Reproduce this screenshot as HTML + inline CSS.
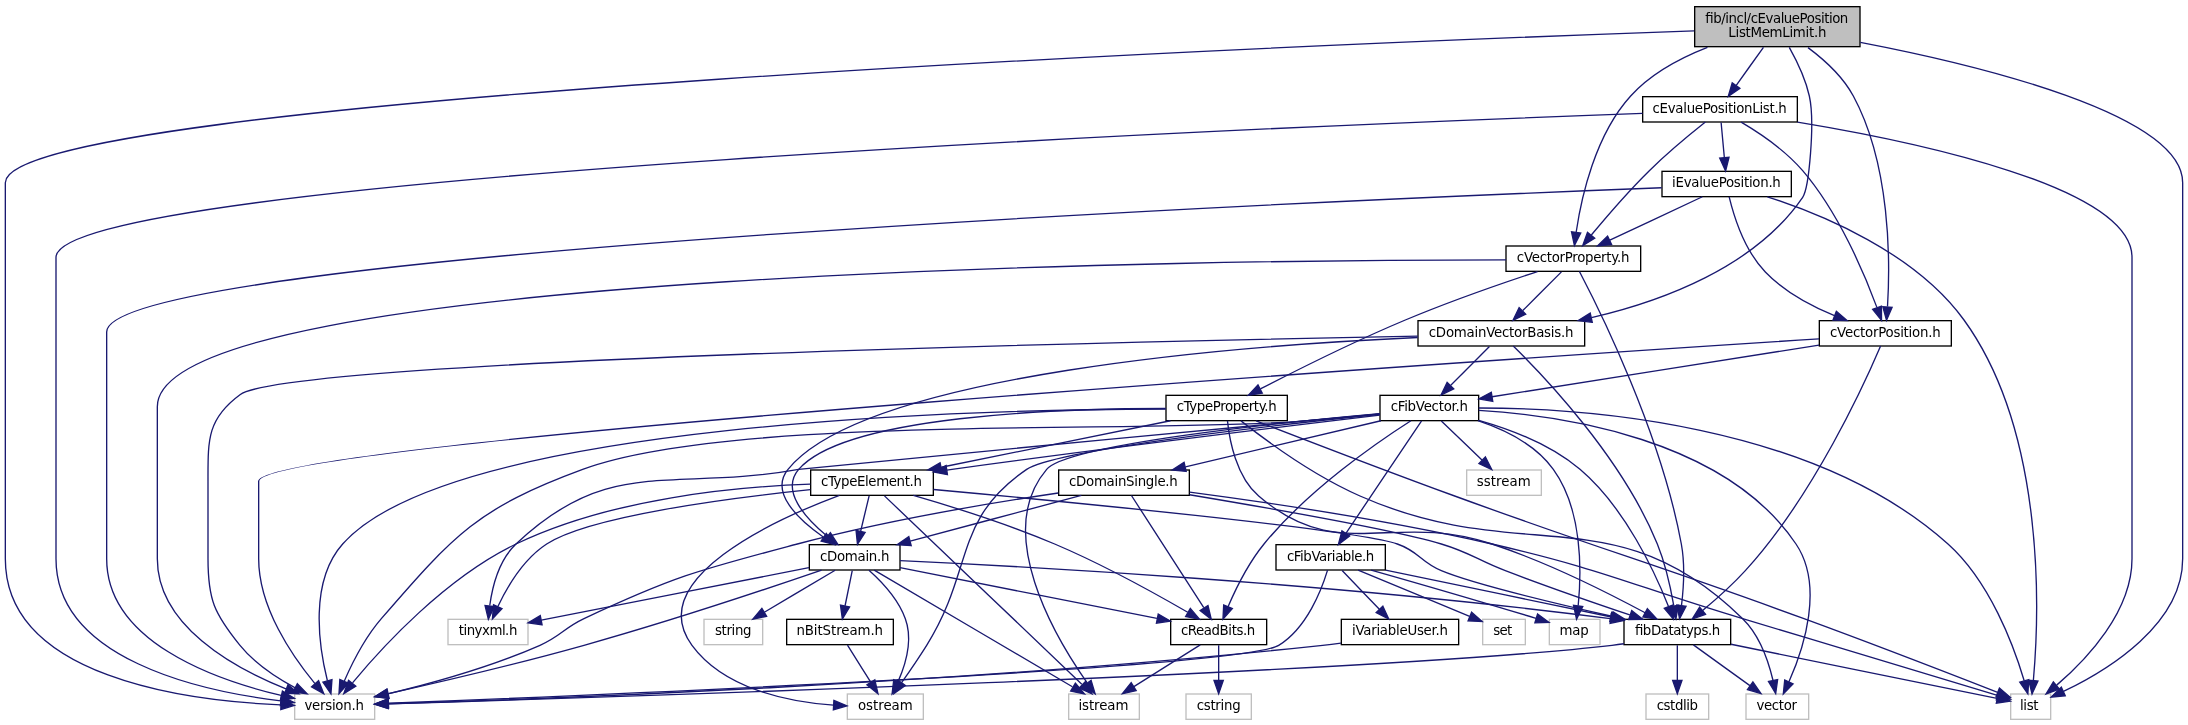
<!DOCTYPE html>
<html lang="en"><head><meta charset="utf-8"><title>fib/incl/cEvaluePositionListMemLimit.h include dependency graph</title>
<style>
html,body{margin:0;padding:0;background:#fff}
svg{display:block;will-change:transform}
.e path{fill:none;stroke:#191970;stroke-width:1.333}
.e polygon{fill:#191970;stroke:#191970;stroke-width:1.333}
rect{stroke-width:1.333}
rect.b{fill:#fff;stroke:#000}
rect.s{fill:#fff;stroke:#bfbfbf}
rect.r{fill:#bfbfbf;stroke:#000}
text{font-family:"DejaVu Sans","Liberation Sans",sans-serif;font-size:13.333px;fill:#000}
text.m{text-anchor:middle}
</style></head><body>
<svg width="2188" height="725" viewBox="0 0 2188 725">
<rect x="0" y="0" width="2188" height="725" fill="#fff" stroke="none"/>
<g class="n">
<rect class="r" x="1694.67" y="6.67" width="165.33" height="40"/><text x="1704.83" y="22.67" textLength="143">fib/incl/cEvaluePosition</text><text class="m" x="1777.33" y="37.33" textLength="98">ListMemLimit.h</text>
<rect class="s" x="294.67" y="694" width="80" height="25.33"/><text class="m" x="334.17" y="710" textLength="59.47">version.h</text>
<rect class="b" x="1642.67" y="96.67" width="154.67" height="25.33"/><text class="m" x="1719.7" y="112.67" textLength="134.23">cEvaluePositionList.h</text>
<rect class="b" x="1819.33" y="320.67" width="132" height="25.33"/><text class="m" x="1885.33" y="336.67" textLength="110.67">cVectorPosition.h</text>
<rect class="s" x="2010.67" y="694" width="40" height="25.33"/><text class="m" x="2029.27" y="710" textLength="18.67">list</text>
<rect class="b" x="1506" y="246" width="134.67" height="25.33"/><text class="m" x="1573.13" y="262" textLength="112.53">cVectorProperty.h</text>
<rect class="b" x="1418" y="320.67" width="166.67" height="25.33"/><text class="m" x="1501.13" y="336.67" textLength="144.73">cDomainVectorBasis.h</text>
<rect class="b" x="1662" y="171.33" width="129.33" height="25.33"/><text class="m" x="1726.47" y="187.33" textLength="108.7">iEvaluePosition.h</text>
<rect class="b" x="1380" y="395.33" width="98.67" height="25.33"/><text class="m" x="1429.33" y="411.33" textLength="77.33">cFibVector.h</text>
<rect class="b" x="1624" y="619.33" width="106.67" height="25.33"/><text class="m" x="1677.33" y="635.33" textLength="85.33">fibDatatyps.h</text>
<rect class="b" x="1276" y="544.67" width="109.33" height="25.33"/><text class="m" x="1330.57" y="560.67" textLength="87.3">cFibVariable.h</text>
<rect class="s" x="1746" y="694" width="62.67" height="25.33"/><text class="m" x="1776.73" y="710" textLength="40.53">vector</text>
<rect class="s" x="1549.33" y="619.33" width="50.67" height="25.33"/><text class="m" x="1574.17" y="635.33" textLength="29.33">map</text>
<rect class="s" x="448" y="619.33" width="80" height="25.33"/><text class="m" x="488" y="635.33" textLength="58.67">tinyxml.h</text>
<rect class="b" x="810.67" y="470" width="122.67" height="25.33"/><text class="m" x="871.4" y="486" textLength="100.93">cTypeElement.h</text>
<rect class="s" x="847.33" y="694" width="76" height="25.33"/><text class="m" x="885.33" y="710" textLength="54.67">ostream</text>
<rect class="b" x="1170.67" y="619.33" width="96" height="25.33"/><text class="m" x="1218.07" y="635.33" textLength="74.37">cReadBits.h</text>
<rect class="s" x="1068.67" y="694" width="70.67" height="25.33"/><text class="m" x="1103.4" y="710" textLength="49.93">istream</text>
<rect class="b" x="1058.67" y="470" width="130.67" height="25.33"/><text class="m" x="1123.4" y="486" textLength="108.73">cDomainSingle.h</text>
<rect class="s" x="1466.67" y="470" width="74.67" height="25.33"/><text class="m" x="1503.8" y="486" textLength="53.93">sstream</text>
<rect class="b" x="1341.33" y="619.33" width="117.33" height="25.33"/><text class="m" x="1400" y="635.33" textLength="96">iVariableUser.h</text>
<rect class="s" x="1482.67" y="619.33" width="42.67" height="25.33"/><text class="m" x="1502.7" y="635.33" textLength="19.13">set</text>
<rect class="s" x="1646" y="694" width="62.67" height="25.33"/><text class="m" x="1677.33" y="710" textLength="41.33">cstdlib</text>
<rect class="b" x="809.33" y="544.67" width="90.67" height="25.33"/><text class="m" x="854.67" y="560.67" textLength="69.33">cDomain.h</text>
<rect class="b" x="786.67" y="619.33" width="106.67" height="25.33"/><text class="m" x="839.7" y="635.33" textLength="86.63">nBitStream.h</text>
<rect class="s" x="704" y="619.33" width="58.67" height="25.33"/><text class="m" x="733.23" y="635.33" textLength="36.63">string</text>
<rect class="s" x="1186" y="694" width="65.33" height="25.33"/><text class="m" x="1218.67" y="710" textLength="44">cstring</text>
<rect class="b" x="1166" y="395.33" width="121.33" height="25.33"/><text class="m" x="1226.67" y="411.33" textLength="100">cTypeProperty.h</text>
</g>
<g class="e">
<path d="M1694.24,30.84 C1343.91,43.35 5.33,96.77 5.33,182.67 5.33,182.67 5.33,182.67 5.33,558.67 5.33,677.73 187.19,700.83 280.63,704.84"/><polygon points="281.12,700.19 294.28,705.32 280.8,709.52"/>
<path d="M1763.45,47.36 C1755.2,58.88 1744.69,73.53 1736.08,85.56"/><polygon points="1739.81,88.36 1728.25,96.48 1732.23,82.92"/>
<path d="M1808.01,47.61 C1824.15,59.6 1842.72,76.37 1853.33,96 1890.64,164.97 1890.23,261.27 1887.52,306.55"/><polygon points="1892.13,307.36 1886.52,320.32 1882.83,306.68"/>
<path d="M1860.33,42.31 C1978.92,65.13 2182.67,114.32 2182.67,182.67 2182.67,182.67 2182.67,182.67 2182.67,558.67 2182.67,624.41 2108.11,670.01 2063.43,691.43"/><polygon points="2065.23,695.73 2051.16,697.07 2061.33,687.25"/>
<path d="M1707.43,47.44 C1680.37,57.99 1651.08,73.6 1630.67,96 1595.08,135.04 1581.28,197.61 1576.16,232.24"/><polygon points="1580.76,233 1574.41,245.61 1571.51,231.79"/>
<path d="M1789.28,47.4 C1796.67,60.57 1805.47,78.68 1809.33,96 1815.13,121.95 1809.03,188.03 1802.67,197.33 1754.8,267.32 1661.6,301.39 1591.47,317.68"/><polygon points="1592.24,322.29 1578.21,320.61 1590.21,313.17"/>
<path d="M1642.53,113.39 C1314.41,125.37 56,176.63 56,257.33 56,257.33 56,257.33 56,558.67 56,659.19 199.75,690.97 280.76,700.91"/><polygon points="281.43,696.28 294.15,702.41 280.37,705.56"/>
<path d="M1721.11,122.56 C1721.97,131.99 1723.23,145.52 1724.32,157.35"/><polygon points="1729,157.29 1725.59,171 1719.71,158.15"/>
<path d="M1741.16,122.19 C1759.28,132.88 1785.13,150.2 1802.67,170.67 1838.87,212.93 1864.51,273.79 1876.89,307.39"/><polygon points="1881.44,306.23 1881.52,320.36 1872.64,309.36"/>
<path d="M1797.49,122.05 C1916.84,141.79 2132,187.11 2132,257.33 2132,257.33 2132,257.33 2132,558.67 2132,611.63 2086.72,659.33 2056.69,685.13"/><polygon points="2059.31,689.01 2046.05,693.91 2053.36,681.83"/>
<path d="M1705.39,122.03 C1690.71,133.68 1667.69,152.6 1649.33,170.67 1628.27,191.4 1606.23,217.04 1591.33,235.04"/><polygon points="1594.72,238.27 1582.67,245.64 1587.49,232.36"/>
<path d="M1661.65,187.75 C1359.47,199.41 106.67,252.53 106.67,332 106.67,332 106.67,332 106.67,558.67 106.67,641.23 213.72,679.51 281.11,695.43"/><polygon points="282.44,690.95 294.43,698.4 280.4,700.05"/>
<path d="M1729.15,196.84 C1733.57,214.91 1744.37,250.09 1765.33,272 1784.23,291.73 1810.99,305.99 1834.45,315.63"/><polygon points="1836.33,311.35 1847.08,320.52 1832.96,320.05"/>
<path d="M1767.39,196.77 C1821.27,214.13 1915.12,252.45 1964,320 2046.17,433.55 2039.17,614.56 2033.37,680.37"/><polygon points="2038,681.08 2032.05,693.89 2028.71,680.16"/>
<path d="M1702.37,196.75 C1677.47,208.43 1638.45,226.75 1609.84,240.19"/><polygon points="1611.57,244.53 1597.52,245.97 1607.6,236.09"/>
<path d="M1819.04,338.88 C1513.83,358.47 258.67,441.48 258.67,481.33 258.67,481.33 258.67,481.33 258.67,558.67 258.67,607.6 292.43,656.45 314.95,683.6"/><polygon points="318.6,680.69 323.77,693.84 311.53,686.8"/>
<path d="M1819.03,345.13 C1731.33,358.99 1577.89,383.21 1492.04,396.76"/><polygon points="1492.77,401.37 1478.87,398.84 1491.31,392.16"/>
<path d="M1880.6,346.07 C1865.24,382.12 1813.75,495.72 1745.33,570.67 1732.23,585.01 1715.96,599.48 1702.61,610.61"/><polygon points="1705.51,614.27 1692.23,619.09 1699.6,607.04"/>
<path d="M1379.72,414.17 C1355.32,416.49 1325.47,419.2 1298.67,421.33 1139.69,433.96 732.32,414.27 582.67,469.33 478.11,507.8 454.23,534.41 381.33,618.67 365.12,637.41 352.29,662.73 344.23,681.16"/><polygon points="348.44,683.17 339.01,693.69 339.83,679.59"/>
<path d="M1421.59,420.84 C1405.31,445.04 1367.27,501.6 1345.91,533.35"/><polygon points="1349.69,536.08 1338.37,544.55 1341.95,530.88"/>
<path d="M1478.72,420.29 C1510.4,429.29 1550.91,444.65 1580,469.33 1624.95,507.45 1654.84,571.84 1668.6,606.63"/><polygon points="1673,605.05 1673.37,619.17 1664.28,608.37"/>
<path d="M1478.79,410.44 C1561.29,415.32 1724.97,438.53 1796,544 1824.24,585.93 1803.76,648.27 1788.96,681.85"/><polygon points="1793.17,683.87 1783.31,693.97 1784.72,679.92"/>
<path d="M1478.68,408 C1579.72,407.99 1812.03,422.16 1948,544 1990.04,581.68 2013.76,645.76 2024.19,680.75"/><polygon points="2028.73,679.71 2027.85,693.8 2019.75,682.23"/>
<path d="M1477.88,420.72 C1504.4,429.52 1535.4,444.52 1553.33,469.33 1582.61,509.84 1581.61,571.41 1578.2,605.59"/><polygon points="1582.79,606.51 1576.56,619.19 1573.52,605.39"/>
<path d="M1379.57,413.96 C1233.12,427.59 812.96,466.79 798.67,469.33 670.75,492.16 610.33,454.64 516,544 499.15,559.96 492.41,586.11 489.75,605.51"/><polygon points="494.33,606.51 488.35,619.31 485.04,605.57"/>
<path d="M1379.8,415.16 C1293.05,425.47 1107.96,447.84 952,469.33 950.32,469.56 948.61,469.8 946.89,470.04"/><polygon points="947.43,474.68 933.56,471.95 946.11,465.44"/>
<path d="M1379.99,414.25 C1278.92,424.67 1055.41,449.63 1026.67,469.33 952.47,520.21 974.45,569.11 926.67,645.33 918.77,657.92 909.41,671.6 901.6,682.71"/><polygon points="905.4,685.41 893.88,693.59 897.8,680.01"/>
<path d="M1410.91,420.71 C1378.01,441.72 1308.48,489.51 1264,544 1248.43,563.08 1235.95,588.36 1228.05,606.68"/><polygon points="1232.33,608.57 1222.95,619.13 1223.69,605.03"/>
<path d="M1379.65,413.55 C1281.01,422.43 1068.08,444.29 1046.67,469.33 993.05,532.01 1054.84,636.69 1086.99,682.59"/><polygon points="1091.12,680.36 1095.15,693.89 1083.56,685.81"/>
<path d="M1380.95,420.75 C1328.03,433.23 1243.05,453.25 1185.45,466.84"/><polygon points="1186.2,471.45 1172.16,469.97 1184.07,462.37"/>
<path d="M1441.33,420.91 C1452.25,431.44 1468.68,447.27 1481.96,460.08"/><polygon points="1485.43,456.95 1491.79,469.56 1478.95,463.65"/>
<path d="M1327.57,570.13 C1321.68,589.48 1306.84,628.17 1278.67,645.33 1240.48,668.59 583.97,695.71 388.91,703.28"/><polygon points="388.64,707.96 375.15,703.81 388.28,698.63"/>
<path d="M1342.12,570.56 C1352.21,581.04 1367.17,596.57 1379.35,609.23"/><polygon points="1382.88,606.16 1388.76,619 1376.16,612.63"/>
<path d="M1385.6,570.08 C1446.56,582.73 1544.93,603.17 1610.36,616.76"/><polygon points="1611.69,612.27 1623.8,619.55 1609.8,621.4"/>
<path d="M1371.16,570.05 C1410.29,581.15 1471.55,598.71 1536.05,618.35"/><polygon points="1537.6,613.95 1548.99,622.31 1534.88,622.87"/>
<path d="M1358.13,570.08 C1388.33,582.63 1436.92,602.8 1469.63,616.39"/><polygon points="1471.63,612.16 1482.15,621.59 1468.05,620.79"/>
<path d="M1340.96,643.08 C1334.8,643.92 1328.61,644.69 1322.67,645.33 967.23,683.61 537,699.31 388.28,703.84"/><polygon points="388.24,708.51 374.77,704.24 387.96,699.17"/>
<path d="M1623.93,643.75 C1619.91,644.35 1615.89,644.88 1612,645.33 1369.17,673.21 599.09,697.52 388.4,703.77"/><polygon points="388.24,708.45 374.77,704.17 387.96,699.12"/>
<path d="M1677.33,645.23 C1677.33,654.65 1677.33,668.19 1677.33,680.01"/><polygon points="1682,680.33 1677.33,693.67 1672.67,680.33"/>
<path d="M1693.4,644.91 C1708.61,655.85 1731.77,672.53 1749.91,685.59"/><polygon points="1752.88,681.97 1760.97,693.56 1747.43,689.55"/>
<path d="M1731,644.27 C1804.81,659.31 1935.49,685.95 1996.95,698.47"/><polygon points="1998.2,693.96 2010.33,701.19 1996.33,703.09"/>
<path d="M810.35,484.19 C736.8,486.67 611.8,498.08 516,544 445.68,577.72 382.25,647 352.52,682.81"/><polygon points="355.8,686.17 343.76,693.57 348.56,680.28"/>
<path d="M933.57,489.53 C1062.85,501.37 1354.28,529.29 1397.33,544 1418.97,551.4 1420.24,561.83 1441.33,570.67 1471.81,583.44 1553.07,602.99 1611.72,616.27"/><polygon points="1613,611.77 1624.99,619.25 1610.95,620.88"/>
<path d="M810.33,489.67 C728.45,498.15 589.21,516.19 546.67,544 523.68,559.03 507.39,586.52 497.89,606.52"/><polygon points="502.08,608.61 492.41,618.92 493.53,604.84"/>
<path d="M869.13,495.89 C866.84,505.43 863.53,519.15 860.67,531.08"/><polygon points="865.13,532.47 857.48,544.33 856.05,530.28"/>
<path d="M839.43,495.33 C775.32,519.41 643.09,578.95 692,645.33 724.21,689.05 787.97,701.85 833.45,705.13"/><polygon points="833.88,700.48 846.93,705.87 833.37,709.8"/>
<path d="M913.36,495.41 C950.87,506.27 1007.36,523.89 1054.67,544 1102.55,564.35 1155.31,593.52 1187.72,612.29"/><polygon points="1190.33,608.41 1199.49,619.16 1185.63,616.47"/>
<path d="M884.47,495.89 C921.95,531.64 1033.85,638.41 1081.8,684.15"/><polygon points="1085.6,681.33 1092.03,693.91 1079.16,688.08"/>
<path d="M821.57,570.13 C770.8,587.53 670.48,621.12 584,645.33 517.19,664.04 439.31,682.21 388.61,693.56"/><polygon points="389.09,698.24 375.07,696.57 387.07,689.12"/>
<path d="M900.08,560.64 C1016.07,566.01 1332.83,582.88 1610.32,618.63"/><polygon points="1611.31,614.04 1623.92,620.4 1610.09,623.31"/>
<path d="M808.97,567.64 C740.97,580.99 613.47,606.03 541.31,620.2"/><polygon points="542.07,624.8 528.08,622.8 540.27,615.65"/>
<path d="M852.24,570.56 C850.31,580.09 847.51,593.81 845.08,605.75"/><polygon points="849.61,606.87 842.37,619 840.47,605"/>
<path d="M868.95,570.27 C881.25,581.24 898.12,598.95 905.33,618.67 912.95,639.47 905.75,664.17 897.95,681.87"/><polygon points="902.13,683.92 892.09,693.85 893.75,679.83"/>
<path d="M900.03,567.64 C964.84,580.47 1084.13,604.05 1156.93,618.45"/><polygon points="1158.24,613.96 1170.41,621.12 1156.43,623.11"/>
<path d="M874.23,570.17 C917.2,595.45 1020.13,656 1072.4,686.75"/><polygon points="1075.4,683.09 1084.52,693.88 1070.67,691.15"/>
<path d="M835.17,570.24 C816.07,581.57 786.65,599.03 764.33,612.27"/><polygon points="766.63,616.33 752.77,619.13 761.87,608.31"/>
<path d="M847.48,645.23 C853.83,655.29 863.09,670.01 870.87,682.36"/><polygon points="874.83,679.89 877.99,693.67 866.93,684.87"/>
<path d="M1200.24,644.91 C1182.36,656.13 1154.91,673.37 1133.88,686.57"/><polygon points="1136.15,690.65 1122.37,693.8 1131.19,682.75"/>
<path d="M1218.67,645.23 C1218.67,654.65 1218.67,668.19 1218.67,680.01"/><polygon points="1223.33,680.33 1218.67,693.67 1214,680.33"/>
<path d="M1058.27,493.01 C991.83,502.83 886.51,520.36 797.33,544 700.24,569.75 674.85,575.81 584,618.67 563.32,628.43 560.93,636.12 540,645.33 490.16,667.27 430.05,683.76 387.79,693.85"/><polygon points="388.77,698.41 374.72,696.89 386.65,689.32"/>
<path d="M1189.49,494.73 C1268.13,507.91 1395.2,530.2 1441.33,544 1470.85,552.84 1476.55,559.67 1505.33,570.67 1547.05,586.63 1595.11,603.24 1629.79,614.92"/><polygon points="1631.69,610.64 1642.85,619.31 1628.72,619.49"/>
<path d="M1189.64,492.12 C1263.63,501.88 1387.27,519.97 1492,544 1605.31,570 1631.31,585.32 1742.67,618.67 1834.96,646.29 1943.83,679.12 1997.43,695.29"/><polygon points="1999,690.89 2010.43,699.21 1996.31,699.84"/>
<path d="M1081.32,495.41 C1035.03,507.79 960.95,527.59 910.16,541.16"/><polygon points="911.23,545.71 897.15,544.64 908.81,536.69"/>
<path d="M1131.43,495.51 C1146.99,519.6 1183.23,575.76 1203.77,607.59"/><polygon points="1207.96,605.48 1211.27,619.21 1200.12,610.53"/>
<path d="M1505.99,259.81 C1224.59,259.92 157.33,269.35 157.33,406.67 157.33,406.67 157.33,406.67 157.33,558.67 157.33,625.69 233.51,667.87 286,688.97"/><polygon points="288.01,684.73 298.79,693.88 284.67,693.45"/>
<path d="M1579.45,271.45 C1599.17,309.11 1660.93,432.97 1681.33,544 1685.08,564.4 1683.64,587.92 1681.51,605.31"/><polygon points="1686.09,606.24 1679.57,618.77 1676.85,604.92"/>
<path d="M1537.51,271.53 C1503.2,282.88 1450.17,301.19 1405.33,320 1353.8,341.63 1295.89,370.61 1260.35,388.96"/><polygon points="1262.31,393.21 1248.32,395.21 1258,384.93"/>
<path d="M1561.44,271.89 C1550.96,282.37 1535.43,297.91 1522.77,310.56"/><polygon points="1525.73,314.2 1513,320.33 1519.13,307.6"/>
<path d="M1165.71,409.01 C983.99,409.44 451.79,421.35 342.67,544 309.23,581.59 318.72,645.71 327.4,680.72"/><polygon points="331.96,679.69 330.95,693.79 322.95,682.15"/>
<path d="M1227.47,420.87 C1229.4,439.61 1236.04,476.56 1258.67,496 1338.96,565.01 1391.51,510.68 1492,544 1547.8,562.49 1608.91,593.29 1645.13,612.76"/><polygon points="1647.37,608.67 1656.87,619.13 1642.92,616.87"/>
<path d="M1240.96,420.88 C1264.44,439.32 1313.25,475.41 1360,496 1523.44,567.99 1615.2,493.57 1742.67,618.67 1759.63,635.31 1768.53,661.32 1773.04,680.51"/><polygon points="1777.61,679.59 1775.69,693.57 1768.47,681.44"/>
<path d="M1256.09,420.8 C1299.44,437.61 1383.08,469.83 1454.67,496 1609.21,552.49 1649.51,562.01 1804,618.67 1873.19,644.04 1953.64,675.2 1997.67,692.39"/><polygon points="1999.4,688.05 2010.11,697.25 1996,696.75"/>
<path d="M1170.47,420.75 C1108.33,433.36 1008.21,453.68 941.27,467.27"/><polygon points="941.93,471.89 927.93,469.97 940.08,462.75"/>
<path d="M1165.73,408.52 C1059.11,408.53 845.51,415.48 798.67,469.33 780.45,490.28 804.81,517.63 826.88,535.95"/><polygon points="830.35,532.73 837.97,544.63 824.6,540.09"/>
<path d="M1417.81,336.12 C1143.89,341.21 287.49,359.87 240,394.67 206.88,418.93 208,440.27 208,481.33 208,481.33 208,481.33 208,558.67 208,599.73 214.19,613.4 240,645.33 254.65,663.45 276.31,677.76 295.21,687.84"/><polygon points="297.35,683.68 307.15,693.85 293.13,692.01"/>
<path d="M1489.44,346.56 C1478.96,357.04 1463.43,372.57 1450.77,385.23"/><polygon points="1453.73,388.87 1441,395 1447.13,382.27"/>
<path d="M1513.27,346.03 C1543.35,375.47 1622.33,457.93 1657.33,544 1665.43,563.92 1670.64,587.8 1673.71,605.45"/><polygon points="1678.39,605.2 1675.87,619.09 1669.16,606.65"/>
<path d="M1417.64,337.51 C1246.6,345.25 866.51,373.16 788,469.33 769.27,492.29 798.16,519.47 823.57,537.19"/><polygon points="826.27,533.37 834.81,544.61 821.12,541.16"/>
</g>
</svg>
</body></html>
